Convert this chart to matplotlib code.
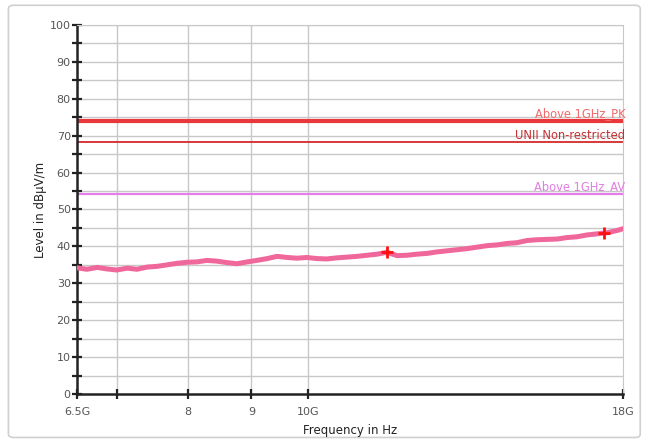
import matplotlib.pyplot as plt
from matplotlib.patches import FancyBboxPatch
from matplotlib.ticker import FixedLocator, NullFormatter

# trace (GHz, dBuV/m)
freq_ghz = [6.50, 6.62, 6.75, 6.87, 7.00, 7.14, 7.27, 7.41, 7.55, 7.69,
            7.83, 7.98, 8.13, 8.28, 8.44, 8.60, 8.76, 8.93, 9.09, 9.27,
            9.44, 9.62, 9.80, 9.98, 10.17, 10.36, 10.56, 10.76, 10.96, 11.17,
            11.38, 11.59, 11.81, 12.03, 12.26, 12.49, 12.72, 12.96, 13.21, 13.46,
            13.71, 13.97, 14.23, 14.50, 14.77, 15.05, 15.33, 15.62, 15.92, 16.22,
            16.52, 16.83, 17.15, 17.47, 17.80, 18.00]
level = [34.2, 33.8, 34.3, 33.9, 33.6, 34.1, 33.8, 34.4, 34.6, 35.0,
         35.4, 35.7, 35.8, 36.2, 36.0, 35.6, 35.3, 35.8, 36.2, 36.7,
         37.3, 37.0, 36.8, 37.0, 36.7, 36.6, 36.9, 37.1, 37.3, 37.6,
         37.9, 38.4, 37.5, 37.6, 37.9, 38.1, 38.5, 38.8, 39.1, 39.4,
         39.8, 40.2, 40.4, 40.8, 41.0, 41.6, 41.8, 41.9, 42.0, 42.4,
         42.6, 43.1, 43.4, 43.7, 44.3, 44.8]

peak_freq = [11.6, 17.37]
peak_level = [38.5, 43.7]

limit_names = ['Above 1GHz_PK', 'UNII Non-restricted', 'Above 1GHz_AV']
limit_values = [74.0, 68.2, 54.3]
limit_colors = ['#e8383d', '#d42a2a', '#e27ee6']
limit_text_colors = ['#f06a6a', '#c43030', '#e07ee0']
limit_widths = [3.0, 1.3, 1.6]

x_ticks = [6.5, 7, 8, 9, 10, 18]
x_labels = ['6.5G', '', '8', '9', '10G', '18G']

fig = plt.figure(figsize=(6.48, 4.41), dpi=100)
fig.patches.append(FancyBboxPatch((0.013, 0.008), 0.975, 0.98,
                                  boxstyle='round,pad=0,rounding_size=0.008',
                                  transform=fig.transFigure, fc='white',
                                  ec='#d0d0d0', lw=1.2, zorder=-1))
ax = fig.add_axes([0.1188, 0.1066, 0.8426, 0.8367])
ax.set_xscale('log')
ax.set_xlim(6.5, 18)
ax.set_ylim(0, 100)

# grid
for y in range(5, 101, 5):
    ax.axhline(y, color='#c8c8c8', lw=1, zorder=0)
for x in [7, 8, 9, 10]:
    ax.axvline(x, color='#c8c8c8', lw=1, zorder=0)

for name, val, c, tc, w in zip(limit_names, limit_values, limit_colors,
                               limit_text_colors, limit_widths):
    ax.axhline(val, color=c, lw=w, zorder=2)
    ax.text(18.08, val + 0.2, name, color=tc, fontsize=8.3,
            ha='right', va='bottom', zorder=3)

ax.plot(freq_ghz, level, color='#f0679b', lw=3.6, solid_joinstyle='round', zorder=4)
ax.plot(peak_freq, peak_level, '+', color='#ff1010', ms=8, mew=2, zorder=5)

ax.xaxis.set_major_locator(FixedLocator(x_ticks))
ax.set_xticklabels(x_labels)
ax.xaxis.set_minor_formatter(NullFormatter())
ax.xaxis.set_minor_locator(FixedLocator([]))
ax.set_yticks(range(0, 101, 10))
ax.set_yticks(range(5, 100, 10), minor=True)

for s in ['top', 'right']:
    ax.spines[s].set_color('#c8c8c8')
for s in ['left', 'bottom']:
    ax.spines[s].set_linewidth(1.8)
    ax.spines[s].set_color('#222222')
ax.tick_params(which='both', direction='inout', length=7, width=1.6,
               color='#222222', labelsize=8, labelcolor='#555555')
ax.tick_params(axis='x', pad=6)
ax.tick_params(axis='y', pad=1)

ax.set_xlabel('Frequency in Hz', fontsize=8.5, color='#222222', labelpad=5)
ax.set_ylabel('Level in dBµV/m', fontsize=8.5, color='#222222', labelpad=2)

fig.savefig('out.png', dpi=100)
